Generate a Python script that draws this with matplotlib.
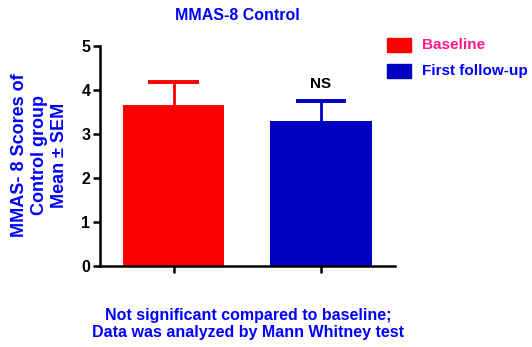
import matplotlib
matplotlib.use("Agg")
import matplotlib.pyplot as plt
from matplotlib.patches import Rectangle

plt.rcParams['font.family'] = ['Liberation Sans', 'DejaVu Sans']

categories = ["Baseline", "First follow-up"]
means = [3.66, 3.30]
sems = [0.52, 0.45]
colors = ["#ff0000", "#0000c0"]
legend_text_colors = ["#ff1a8c", "#0000ff"]
yticks = [0, 1, 2, 3, 4, 5]

fig = plt.figure(figsize=(5.32, 3.47), dpi=100)
ax = fig.add_axes([0.188, 0.2334, 0.554, 0.634])

x = list(range(len(categories)))
width = 0.687
ax.bar(x, means, width=width, color=colors, zorder=2)
for xi, m, s, c in zip(x, means, sems, colors):
    ax.vlines(xi, m, m + s, color=c, linewidth=2, zorder=1)
    ax.hlines(m + s, xi - width / 4, xi + width / 4, color=c, linewidth=2.8, zorder=1)

ax.text(1, 3.98, "NS", ha="center", va="bottom", fontsize=11, fontweight="bold")

ax.set_xlim(-0.5, 1.5)
ax.set_ylim(0, 5)
ax.set_yticks(yticks)
ax.set_yticklabels([str(t) for t in yticks], fontsize=11.5, fontweight="bold")
ax.set_xticks(x)
ax.set_xticklabels(["", ""])
for sp in ["top", "right"]:
    ax.spines[sp].set_visible(False)
for sp in ["left", "bottom"]:
    ax.spines[sp].set_linewidth(1.8)
ax.tick_params(width=1.8, length=5, direction="out", pad=2)

fig.text(0.447, 0.955, "MMAS-8 Control", ha="center", va="center", color="#0000ff",
         fontsize=11.5, fontweight="bold")
fig.text(0.074, 0.553, "MMAS- 8 Scores of\nControl group\nMean ± SEM", ha="center",
         va="center", rotation=90, color="#0000ff", fontsize=13, fontweight="bold",
         linespacing=1.25)
fig.text(0.466, 0.066, "Not significant compared to baseline;\nData was analyzed by Mann Whitney test",
         ha="center", va="center", color="#0000ff", fontsize=11.5, fontweight="bold",
         linespacing=1.2)

# legend
for i, (lab, c, tc) in enumerate(zip(categories, colors, legend_text_colors)):
    ytop = 38 + i * 26
    fig.patches.append(Rectangle((387 / 532, 1 - (ytop + 14) / 347), 24 / 532, 14 / 347,
                                 transform=fig.transFigure, color=c, figure=fig))
    fig.text(422 / 532, 1 - (ytop + 7) / 347, lab, ha="left", va="center", color=tc,
             fontsize=11, fontweight="bold")

fig.savefig("out.png", dpi=100)
